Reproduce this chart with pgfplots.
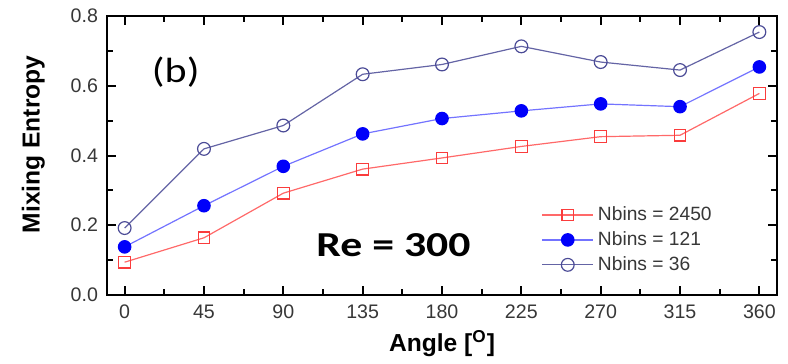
\documentclass[border=0pt]{standalone}
\usepackage{fontspec}
\setmainfont{Liberation Sans}
\newfontfamily\calibri{Carlito}
\usepackage{pgfplots}
\pgfplotsset{compat=1.18}

\definecolor{redline}{RGB}{255,105,105}
\definecolor{redmark}{RGB}{250,60,60}
\definecolor{blueline}{RGB}{115,115,255}
\definecolor{bluemark}{RGB}{0,0,250}
\definecolor{purpline}{RGB}{100,100,165}
\definecolor{purpmark}{RGB}{75,75,150}
\definecolor{ticktext}{RGB}{55,55,55}

\begin{document}
\begin{tikzpicture}
\path (0pt,0pt) rectangle (394pt,180pt);
\begin{axis}[
  at={(53.5pt,32.5pt)}, anchor=south west,
  scale only axis, width=335pt, height=139.5pt,
  xmin=-10, xmax=370, ymin=0, ymax=0.8,
  axis on top,
  xtick={0,45,...,360}, minor xtick={22.5,67.5,...,337.5},
  ytick={0,0.2,...,0.8}, minor ytick={0.1,0.3,0.5,0.7},
  xtick pos=both, ytick pos=both,
  tick align=inside,
  major tick length=4.5pt, minor tick length=2.8pt,
  tick style={black, line width=1pt},
  axis line style={line width=1pt},
  every tick label/.append style={font=\fontsize{9.8}{11}\selectfont, text=ticktext},
  yticklabel style={/pgf/number format/fixed, /pgf/number format/fixed zerofill, /pgf/number format/precision=1, xshift=-1pt},
  xticklabel style={yshift=-1.5pt},
  xlabel={\textbf{Angle [\textsuperscript{O}]}},
  ylabel={\textbf{Mixing Entropy}},
  label style={font=\fontsize{12.3}{14}\selectfont},
  xlabel style={at={(axis description cs:0.5,-0.175)}, anchor=center},
  ylabel style={at={(axis description cs:-0.11,0.54)}, anchor=center},
  legend style={at={(axis description cs:0.645,0.34)}, anchor=north west, draw=none, fill=none,
    font=\fontsize{9.6}{10}\selectfont, text=ticktext, row sep=0pt, inner sep=1pt},
  legend cell align=left,
  legend image code/.code={\draw[mark repeat=2,mark phase=2] plot coordinates {(0cm,0cm) (0.45cm,0cm) (0.9cm,0cm)};},
  /pgf/number format/assume math mode=true,
]
\addplot[redline, line width=0.6pt, mark=square, mark size=2.9pt, mark options={draw=redmark, fill=white, line width=0.6pt}]
  coordinates {(0,0.094) (45,0.164) (90,0.292) (135,0.361) (180,0.393) (225,0.426) (270,0.454) (315,0.458) (360,0.578)};
\addlegendentry{Nbins = 2450}
\addplot[blueline, line width=0.6pt, mark=*, mark size=3.1pt, mark options={draw=bluemark, fill=bluemark}]
  coordinates {(0,0.138) (45,0.256) (90,0.369) (135,0.462) (180,0.506) (225,0.528) (270,0.548) (315,0.540) (360,0.654)};
\addlegendentry{Nbins = 121}
\addplot[purpline, line width=0.6pt, mark=o, mark size=3.2pt, mark options={draw=purpmark, fill=white, line width=0.6pt}]
  coordinates {(0,0.192) (45,0.419) (90,0.486) (135,0.633) (180,0.661) (225,0.713) (270,0.668) (315,0.645) (360,0.754)};
\addlegendentry{Nbins = 36}
\node[font=\calibri\fontsize{17.5}{18}\selectfont, text=black] at (axis cs:29,0.64) {\scalebox{1.2}[1]{(b)}};
\node[font=\calibri\bfseries\fontsize{17.5}{20}\selectfont] at (axis cs:152.5,0.143) {\scalebox{1.25}[1]{Re = 300}};
\end{axis}
\end{tikzpicture}
\end{document}
